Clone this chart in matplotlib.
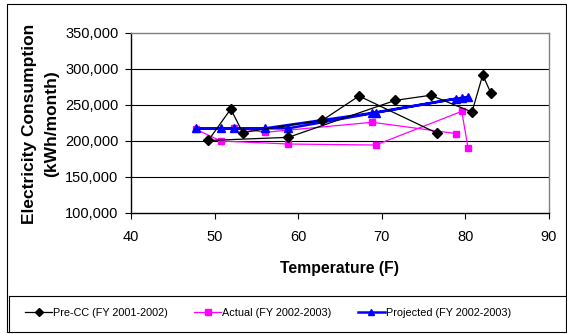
import matplotlib.pyplot as plt
from matplotlib.lines import Line2D
from matplotlib.patches import Rectangle

plt.rcParams['font.family'] = ['Liberation Sans', 'DejaVu Sans']

# Pre-CC (FY 2001-2002), monthly points in data order
pre_temp = [76.57, 67.27, 62.88, 53.36, 51.93, 49.25, 58.82, 71.62, 75.85, 80.79, 82.07, 83.03]
pre_kwh = [211100, 262500, 228700, 211800, 244400, 200700, 205100, 256500, 263500, 240300, 291700, 267100]

# Actual / Projected (FY 2002-2003)
act_temp = [78.82, 68.86, 56.03, 52.32, 47.78, 50.73, 58.82, 69.27, 79.56, 80.33]
act_kwh = [210400, 226000, 212100, 218500, 216250, 200000, 195800, 194400, 241200, 189600]
proj_kwh = [258800, 238900, 217600, 217700, 217600, 217600, 217600, 239300, 260000, 261300]

series_names = ['Pre-CC (FY 2001-2002)', 'Actual (FY 2002-2003)', 'Projected (FY 2002-2003)']
x_ticks = [40, 50, 60, 70, 80, 90]
y_ticks = [100000, 150000, 200000, 250000, 300000, 350000]

W, H = 567, 334
fig = plt.figure(figsize=(W / 100, H / 100), dpi=100)
ax = fig.add_axes([131 / W, 1 - 213 / H, (549 - 131) / W, (213 - 33) / H])

l1, = ax.plot(pre_temp, pre_kwh, color='black', lw=0.9, marker='D', ms=5,
              mfc='black', mec='black', zorder=4)
l2, = ax.plot(act_temp, act_kwh, color='#ff00ff', lw=0.9, marker='s', ms=5,
              mfc='#ff00ff', mec='#ff00ff', zorder=3)
l3, = ax.plot(act_temp, proj_kwh, color='#0000ff', lw=1.8, marker='^', ms=5.5,
              mfc='#0000ff', mec='#0000ff', zorder=3)

ax.set_xlim(40, 90)
ax.set_ylim(100000, 350000)
ax.set_xticks(x_ticks)
ax.set_yticks(y_ticks)
ax.set_xticklabels([str(t) for t in x_ticks])
ax.set_yticklabels(['{:,}'.format(t) for t in y_ticks])
ax.tick_params(axis='y', direction='out', length=4, width=0.8, pad=5, labelsize=10.5)
ax.tick_params(axis='x', direction='out', length=4, width=0.8, pad=8, labelsize=10.5)

for v in y_ticks[1:-1]:
    ax.axhline(v, color='black', lw=0.8, zorder=1)

ax.spines['left'].set_color('black')
ax.spines['bottom'].set_color('black')
ax.spines['top'].set_color('#808080')
ax.spines['right'].set_color('#808080')
for s in ax.spines.values():
    s.set_linewidth(1.0)

fig.text(30 / W, 1 - 124 / H, 'Electricity Consumption', rotation=90,
         ha='center', va='center', fontsize=12.5, fontweight='bold')
fig.text(52 / W, 1 - 124 / H, '(kWh/month)', rotation=90,
         ha='center', va='center', fontsize=12.5, fontweight='bold')
fig.text(340 / W, 1 - 268 / H, 'Temperature (F)', ha='center', va='center',
         fontsize=11.3, fontweight='bold')

# chart border and legend box
fig.patches.append(Rectangle((7 / W, 1 - 332 / H), 559 / W, 328 / H,
                             transform=fig.transFigure, fill=False,
                             ec='black', lw=0.8))
fig.add_artist(Line2D([9 / W, 1], [1 - 296 / H, 1 - 296 / H],
                      transform=fig.transFigure, color='black', lw=0.8))
fig.add_artist(Line2D([9 / W, 9 / W], [1 - 296 / H, 1 - 332 / H],
                      transform=fig.transFigure, color='black', lw=0.8))

fig.legend([l1, l2, l3], series_names, loc='center',
           bbox_to_anchor=(268 / W, 1 - 313 / H), ncol=3, frameon=False,
           fontsize=7.8, handlelength=2.5, handletextpad=0.1,
           columnspacing=2.4, markerscale=0.8, borderpad=0)

fig.savefig('out.png', dpi=100)
